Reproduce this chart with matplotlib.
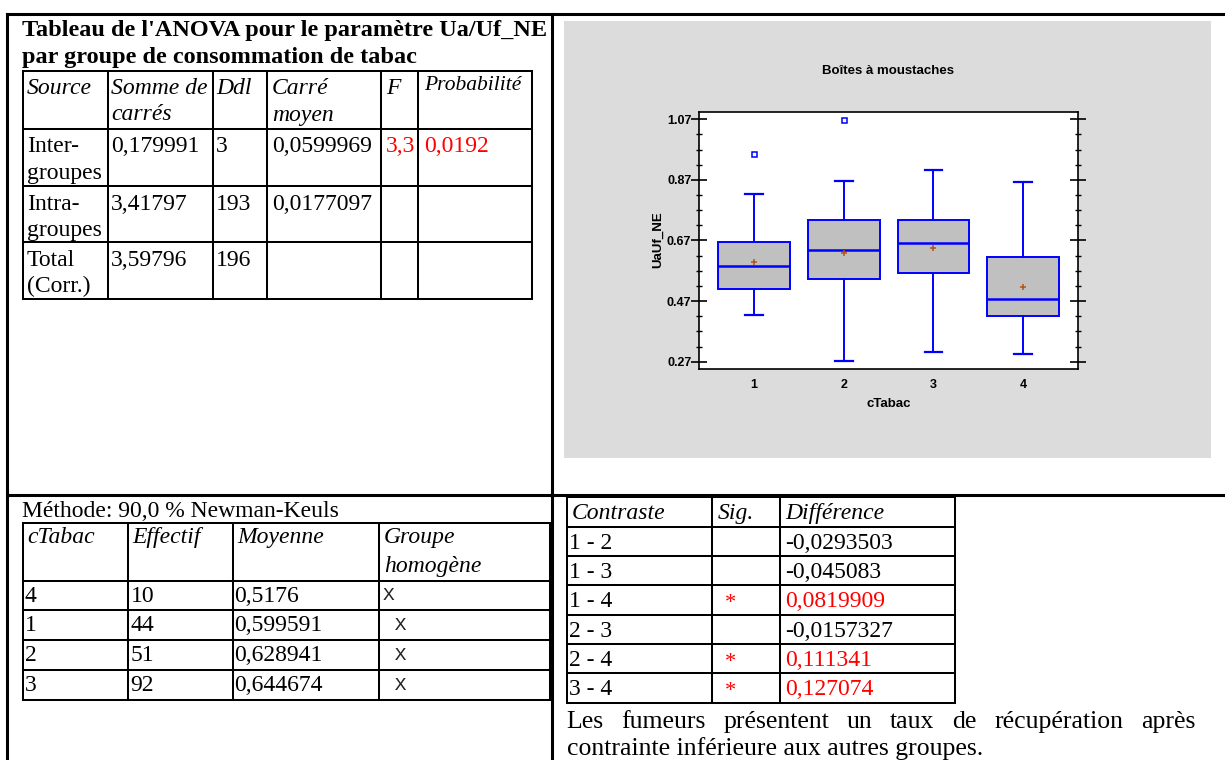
import matplotlib
matplotlib.use("Agg")
import matplotlib.pyplot as plt
from matplotlib.patches import Rectangle
from matplotlib.ticker import AutoMinorLocator

# ---------------- data ----------------
title_lines = ["Tableau de l'ANOVA pour le paramètre Ua/Uf_NE",
               "par groupe de consommation de tabac"]
anova_header = [["Source"], ["Somme de", "carrés"], ["Ddl"], ["Carré", "moyen"], ["F"], ["Probabilité"]]
anova_source = [["Inter-", "groupes"], ["Intra-", "groupes"], ["Total", "(Corr.)"]]
anova_ss = ["0,179991", "3,41797", "3,59796"]
anova_df = ["3", "193", "196"]
anova_ms = ["0,0599969", "0,0177097", ""]
anova_f = ["3,3", "", ""]
anova_p = ["0,0192", "", ""]

method_text = "Méthode: 90,0 % Newman-Keuls"
nk_header = [["cTabac"], ["Effectif"], ["Moyenne"], ["Groupe", "homogène"]]
nk_ctabac = ["4", "1", "2", "3"]
nk_effectif = ["10", "44", "51", "92"]
nk_moyenne = ["0,5176", "0,599591", "0,628941", "0,644674"]
nk_groupe = ["X", " X", " X", " X"]

ct_header = ["Contraste", "Sig.", "Différence"]
ct_contraste = ["1 - 2", "1 - 3", "1 - 4", "2 - 3", "2 - 4", "3 - 4"]
ct_sig = ["", "", "*", "", "*", "*"]
ct_diff = ["-0,0293503", "-0,045083", "0,0819909", "-0,0157327", "0,111341", "0,127074"]

conclusion = ["Les fumeurs présentent un taux de récupération après",
              "contrainte inférieure aux autres groupes."]

box_title = "Boîtes à moustaches"
box_xlabel = "cTabac"
box_ylabel = "UaUf_NE"
box_groups = ["1", "2", "3", "4"]
box_whislo = [0.424, 0.273, 0.303, 0.297]
box_q1 = [0.509, 0.542, 0.563, 0.422]
box_med = [0.585, 0.638, 0.661, 0.477]
box_q3 = [0.664, 0.739, 0.739, 0.617]
box_whishi = [0.822, 0.866, 0.902, 0.863]
box_mean = [0.599591, 0.628941, 0.644674, 0.5176]
box_fliers = [[0.955], [1.069], [], []]
ytick_vals = [0.27, 0.47, 0.67, 0.87, 1.07]
ytick_labels = ["0.27", "0.47", "0.67", "0.87", "1.07"]

# ---------------- figure ----------------
W, H = 1225, 760
fig = plt.figure(figsize=(W / 100, H / 100), dpi=100)
bg = fig.add_axes([0, 0, 1, 1])
bg.set_xlim(0, W)
bg.set_ylim(H, 0)
bg.axis("off")

SERIF = "Liberation Serif"
FS = 17
RED = "#ff0000"
LW_FRAME = 2.2
LW_TAB = 1.45


def hl(y, x0, x1, lw=LW_TAB):
    bg.plot([x0, x1], [y, y], color="black", lw=lw, solid_capstyle="projecting")


def vl(x, y0, y1, lw=LW_TAB):
    bg.plot([x, x], [y0, y1], color="black", lw=lw, solid_capstyle="projecting")


def txt(x, y, s, italic=False, color="black", size=FS, bold=False, family=SERIF):
    return bg.text(x, y, s, ha="left", va="baseline", fontsize=size,
                   family=family, style="italic" if italic else "normal",
                   weight="bold" if bold else "normal", color=color)


# outer frame / dividers
hl(14, 7, W, LW_FRAME)
vl(7, 14, H, LW_FRAME)
vl(551.5, 14, H, LW_FRAME)
hl(494.5, 7, W, LW_FRAME)

# gray panel of the chart
bg.add_patch(Rectangle((564, 21), 647, 437, facecolor="#dcdcdc", edgecolor="none"))

# ---------------- ANOVA table ----------------
txt(22, 36, title_lines[0], bold=True, size=17.5)
txt(22, 63, title_lines[1], bold=True, size=17.5)
tx = [22.7, 108.3, 213.3, 266.7, 381, 417.7, 531.7]
ty = [70.5, 128.5, 185.7, 242.3, 299.3]
pads = [4, 3, 3, 5, 5, 6]
for x in tx:
    vl(x, ty[0], ty[-1])
for y in ty:
    hl(y, tx[0], tx[-1])
for j, lines in enumerate(anova_header):
    for k, s in enumerate(lines):
        if s == "Probabilité":
            txt(tx[j] + pads[j], ty[0] + 20, s, italic=True, size=15.5)
        else:
            txt(tx[j] + pads[j], ty[0] + 24 + 26 * k, s, italic=True)
for i in range(3):
    top = ty[i + 1]
    for k, s in enumerate(anova_source[i]):
        txt(tx[0] + pads[0], top + 24 + 26 * k, s)
    txt(tx[1] + pads[1], top + 24, anova_ss[i])
    txt(tx[2] + pads[2], top + 24, anova_df[i])
    txt(tx[3] + pads[3], top + 24, anova_ms[i])
    txt(tx[4] + pads[4], top + 24, anova_f[i], color=RED)
    txt(tx[5] + pads[5], top + 24, anova_p[i], color=RED)

# ---------------- Newman-Keuls table ----------------
txt(22, 517, method_text)
bx = [22.7, 127.7, 232.7, 379, 549.5]
by = [523.3, 580.5, 610.3, 640.1, 669.9, 699.7]
for x in bx:
    vl(x, by[0], by[-1])
for y in by:
    hl(y, bx[0], bx[-1])
for j, lines in enumerate(nk_header):
    for k, s in enumerate(lines):
        txt(bx[j] + 5, by[0] + 20 + 29 * k, s, italic=True)
for i in range(4):
    top = by[i + 1]
    txt(bx[0] + 2, top + 21, nk_ctabac[i])
    txt(bx[1] + 3, top + 21, nk_effectif[i])
    txt(bx[2] + 1, top + 21, nk_moyenne[i])
    txt(bx[3] + 4, top + 20, nk_groupe[i], family="Liberation Mono", size=14, color="#222222")

# ---------------- Contrast table ----------------
rx = [566.7, 712.3, 780, 955]
ry = [497.3 + 29.34 * k for k in range(8)]
for x in rx:
    vl(x, ry[0], ry[-1])
for y in ry:
    hl(y, rx[0], rx[-1])
for j, s in enumerate(ct_header):
    txt(rx[j] + 5, ry[0] + 22, s, italic=True)
for i in range(6):
    top = ry[i + 1]
    red = ct_sig[i] == "*"
    txt(rx[0] + 2, top + 22, ct_contraste[i])
    bg.text(730, top + 23, ct_sig[i], ha="center", va="baseline",
            fontsize=16, family=SERIF, color=RED)
    txt(rx[2] + 5, top + 22, ct_diff[i], color=RED if red else "black")

# conclusion paragraph (first line justified)
PFS = 18.5
words = conclusion[0].split()
wtexts = [txt(0, 728, w, size=PFS) for w in words]
txt(566.7, 754.5, conclusion[1], size=PFS)

# ---------------- box plot ----------------
ax = fig.add_axes([699 / W, 1 - 369.3 / H, 379.3 / W, 257.6 / H])
ax.set_facecolor("white")
stats = []
for i in range(len(box_groups)):
    stats.append(dict(med=box_med[i], q1=box_q1[i], q3=box_q3[i],
                      whislo=box_whislo[i], whishi=box_whishi[i],
                      mean=box_mean[i], fliers=box_fliers[i]))
blue = "#0000ff"
ax.bxp(stats, positions=range(1, len(box_groups) + 1), widths=0.8, capwidths=0.2,
       patch_artist=True, showmeans=True,
       boxprops=dict(facecolor="#c0c0c0", edgecolor=blue, linewidth=1.4),
       medianprops=dict(color=blue, linewidth=1.8),
       whiskerprops=dict(color=blue, linewidth=1.4),
       capprops=dict(color=blue, linewidth=1.6),
       meanprops=dict(marker="+", markeredgecolor="#b5541c", markersize=4.5, markeredgewidth=1.1),
       flierprops=dict(marker="s", markerfacecolor="none", markeredgecolor=blue,
                       markersize=3.6, markeredgewidth=1.1))
ax.set_xlim(0.385, 4.615)
ax.set_ylim(0.245, 1.095)
ax.set_xticks(range(1, len(box_groups) + 1))
ax.set_xticklabels(box_groups, fontsize=9, family="Liberation Sans", weight="bold")
ax.set_yticks(ytick_vals)
ax.set_yticklabels(ytick_labels, fontsize=9, family="Liberation Sans", weight="bold")
ax.yaxis.set_minor_locator(AutoMinorLocator(4))
ax.tick_params(axis="x", length=0, pad=7)
ax.tick_params(axis="y", which="major", direction="inout", length=11, width=1.2,
               left=True, right=True, pad=0)
ax.tick_params(axis="y", which="minor", direction="inout", length=5, width=1.0,
               left=True, right=True)
for sp in ax.spines.values():
    sp.set_linewidth(1.2)
    sp.set_color("black")

bg.text(888.5, 73.5, box_title, ha="center", va="baseline", fontsize=9.5,
        family="Liberation Sans", weight="bold")
bg.text(889, 407, box_xlabel, ha="center", va="baseline", fontsize=9.5,
        family="Liberation Sans", weight="bold")
bg.text(661, 240, box_ylabel, ha="center", va="baseline", rotation=90, rotation_mode="anchor",
        fontsize=9.5, family="Liberation Sans", weight="bold")

# justify first paragraph line
fig.canvas.draw()
r = fig.canvas.get_renderer()
widths = [t.get_window_extent(r).width for t in wtexts]
x0, x1 = 566.7, 1195
gap = (x1 - x0 - sum(widths)) / (len(words) - 1)
x = x0
for t, w in zip(wtexts, widths):
    t.set_x(x)
    x += w + gap

fig.savefig("out.png", dpi=100)
